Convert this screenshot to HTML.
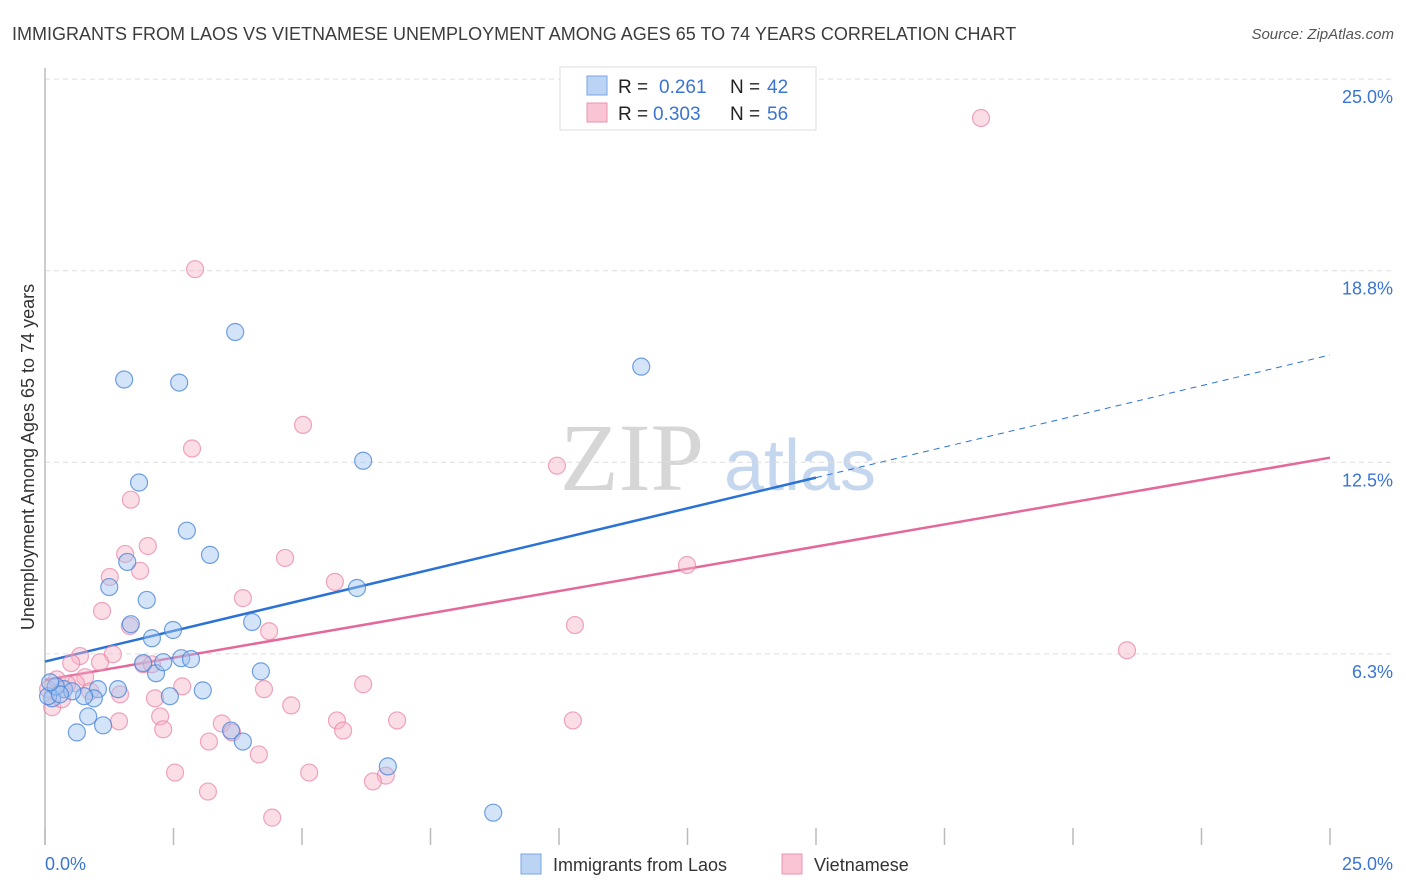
<!DOCTYPE html>
<html><head><meta charset="utf-8">
<style>
body{margin:0;background:#fff;font-family:"Liberation Sans",sans-serif;}
svg{display:block}
</style></head>
<body>
<svg id="chart" width="1406" height="892" xmlns="http://www.w3.org/2000/svg" font-family="Liberation Sans, sans-serif">
<text x="12" y="40" font-size="18" fill="#3c3c3c">IMMIGRANTS FROM LAOS VS VIETNAMESE UNEMPLOYMENT AMONG AGES 65 TO 74 YEARS CORRELATION CHART</text>
<text x="1394" y="39" font-size="15" fill="#555" font-style="italic" text-anchor="end">Source: ZipAtlas.com</text>
<g>
<text x="632" y="490" font-size="96" fill="#d6d6d6" font-family="Liberation Serif, serif" text-anchor="middle">ZIP</text>
<text x="800" y="490" font-size="72" fill="#c5d7ee" text-anchor="middle">atlas</text>
</g>
<g id="grid"></g>
<g id="axes"></g>
<g id="lines"></g>
<g id="points"></g>
<text transform="translate(34,457) rotate(-90)" font-size="18" fill="#333" text-anchor="middle">Unemployment Among Ages 65 to 74 years</text>
<g>
<rect x="560" y="67" width="256" height="63" fill="#fff" stroke="#ddd"/>
<rect x="587" y="76" width="20" height="19" fill="#bcd4f4" stroke="#7aa6e6"/>
<rect x="587" y="103" width="20" height="19" fill="#f9c5d5" stroke="#ec93b0"/>
<text x="618" y="93" font-size="19" fill="#222">R = </text><text x="659" y="93" font-size="19" fill="#3a74d4">0.261</text>
<text x="730" y="93" font-size="19" fill="#222">N = </text><text x="767" y="93" font-size="19" fill="#3a74d4">42</text>
<text x="618" y="120" font-size="19" fill="#222">R = </text><text x="653" y="120" font-size="19" fill="#3a74d4">0.303</text>
<text x="730" y="120" font-size="19" fill="#222">N = </text><text x="767" y="120" font-size="19" fill="#3a74d4">56</text>
</g>
<g>
<rect x="521" y="854" width="20" height="20" fill="#bcd4f4" stroke="#7aa6e6"/>
<text x="553" y="871" font-size="18" fill="#333">Immigrants from Laos</text>
<rect x="782" y="854" width="20" height="20" fill="#f9c5d5" stroke="#ec93b0"/>
<text x="814" y="871" font-size="18" fill="#333">Vietnamese</text>
</g>
</svg>
<script>
const yTicks=[6.25,12.5,18.75,25];
const yTickLabels=["6.3%","12.5%","18.8%","25.0%"];
const xTicks=[0,2.5,5,7.5,10,12.5,15,17.5,20,22.5,25];
const laosX=[1.54,2.61,3.70,11.60,6.19,1.83,2.76,3.21,1.60,1.25,1.98,6.07,4.03,1.67,2.49,2.08,4.20,2.65,2.84,1.91,2.16,2.30,1.42,1.03,3.07,2.43,0.95,0.76,0.37,0.53,0.14,0.06,0.21,0.84,1.13,0.62,3.62,3.85,6.67,8.72,0.29,0.10];
const laosY=[15.2,15.1,16.75,15.62,12.55,11.84,10.27,9.48,9.25,8.43,8.01,8.40,7.29,7.22,7.03,6.76,5.68,6.11,6.08,5.95,5.62,5.98,5.10,5.10,5.06,4.87,4.80,4.87,5.10,5.03,4.80,4.87,5.19,4.21,3.92,3.69,3.75,3.39,2.58,1.07,4.93,5.32];
const vietX=[18.21,2.92,5.02,2.86,9.96,1.67,2.00,1.56,4.67,12.49,1.26,1.85,5.64,3.85,1.11,10.31,1.65,4.36,1.32,0.68,21.05,1.91,0.51,1.07,2.08,2.67,4.26,6.19,2.14,1.46,4.79,0.78,0.60,2.24,1.44,5.68,6.85,10.27,3.44,2.30,5.80,3.64,3.19,4.16,2.53,5.14,3.17,6.63,6.38,4.42,0.14,0.06,0.33,0.88,0.23,0.43];
const vietY=[23.73,18.8,13.72,12.95,12.39,11.28,9.77,9.51,9.38,9.15,8.76,8.96,8.60,8.07,7.65,7.19,7.16,6.99,6.24,6.18,6.37,5.91,5.95,5.98,5.91,5.19,5.10,5.26,4.80,4.93,4.57,5.49,5.29,4.21,4.05,4.08,4.08,4.08,3.98,3.79,3.75,3.69,3.39,2.97,2.38,2.38,1.76,2.28,2.09,0.91,4.51,5.10,4.77,5.03,5.42,5.26];
const laosLine=[0,6.0,15,12.0,25,16.0];
const vietLine=[0,5.4,25,12.65];
const NS="http://www.w3.org/2000/svg";
const X=v=>45+v/25*1285;
const Y=v=>845.5-v/6.25*191.6;
function mk(tag,attrs,parent){const e=document.createElementNS(NS,tag);for(const k in attrs)e.setAttribute(k,attrs[k]);document.getElementById(parent).appendChild(e);return e;}
yTicks.forEach((t,i)=>{
 const l=mk('line',{x1:45,x2:1394,y1:Y(t),y2:Y(t),stroke:'#ddd','stroke-dasharray':'5,4'},'grid');
 
 
 const tx=mk('text',{x:1393,y:Y(t)+24,'font-size':18,fill:'#3a74d4','text-anchor':'end'},'grid');
 tx.textContent=yTickLabels[i];
 
 
});
const ya=mk('line',{x1:45,x2:45,y1:68,y2:845,stroke:'#bbb','stroke-width':1.5},'axes');


xTicks.forEach(t=>{
 const l=mk('line',{x1:X(t),x2:X(t),y1:828,y2:845,stroke:'#bbb','stroke-width':1.5},'axes');
 
 
});
const xl0=mk('text',{x:45,y:870,'font-size':18,fill:'#3a74d4'},'axes');xl0.textContent='0.0%';


const xl1=mk('text',{x:1393,y:870,'font-size':18,fill:'#3a74d4','text-anchor':'end'},'axes');xl1.textContent='25.0%';


function pts(xs,ys,fill,stroke,name){xs.forEach((x,i)=>{
 const c=mk('circle',{cx:X(x),cy:Y(ys[i]),r:8.5,fill:fill,stroke:stroke,'stroke-width':1.2},'points');
 
 
});}
pts(vietX,vietY,'rgba(247,180,200,0.45)','rgba(232,130,165,0.7)','vietnamese-point');
pts(laosX,laosY,'rgba(160,195,240,0.45)','rgba(70,130,215,0.75)','laos-point');
const bl=mk('line',{x1:X(laosLine[0]),y1:Y(laosLine[1]),x2:X(laosLine[2]),y2:Y(laosLine[3]),stroke:'#2a72d6','stroke-width':2.5},'lines');


const bd=mk('line',{x1:X(laosLine[2]),y1:Y(laosLine[3]),x2:X(laosLine[4]),y2:Y(laosLine[5]),stroke:'#2a72d6','stroke-width':1,'stroke-dasharray':'6,5'},'lines');


const pl=mk('line',{x1:X(vietLine[0]),y1:Y(vietLine[1]),x2:X(vietLine[2]),y2:Y(vietLine[3]),stroke:'#e4689a','stroke-width':2.5},'lines');


</script>
</body></html>
